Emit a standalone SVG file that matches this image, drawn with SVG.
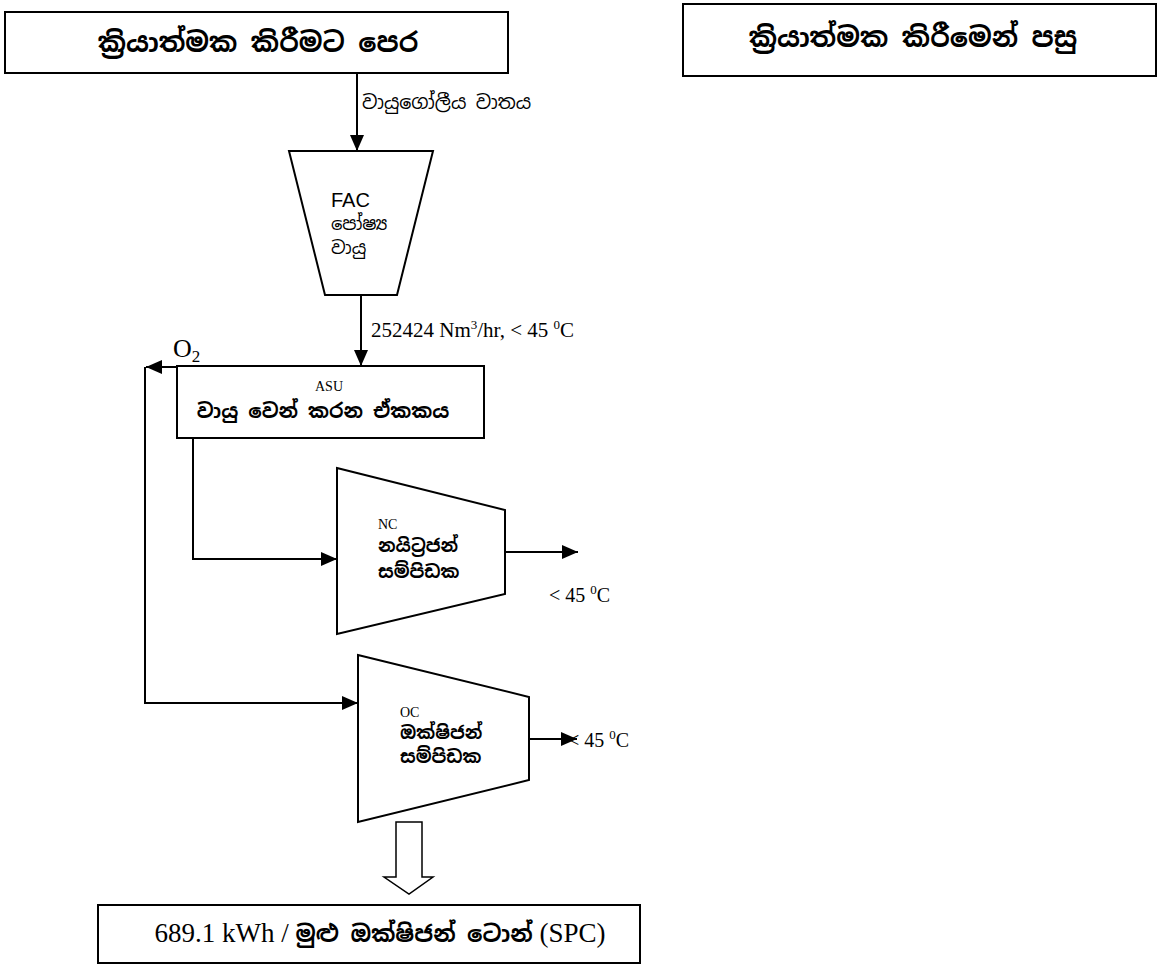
<svg xmlns="http://www.w3.org/2000/svg" width="1159" height="968" viewBox="0 0 1159 968">
  <defs>
    <marker id="ahb" viewBox="0 0 16 14" refX="16" refY="7" markerWidth="16" markerHeight="14" markerUnits="userSpaceOnUse" orient="auto">
      <path d="M0,0 L16,7 L0,14 z" fill="#000"/>
    </marker>
  </defs>
  <style>
    .box { fill: #fff; stroke: #000; stroke-width: 2; }
    .shape { fill: #fff; stroke: #000; stroke-width: 2; }
    .conn { fill: none; stroke: #000; stroke-width: 2; }
    .hdr { font-family: "Noto Sans Sinhala", "Noto Sans", "DejaVu Sans", sans-serif; font-weight: bold; font-size: 27px; fill: #000; }
    .sin { font-family: "Noto Sans Sinhala", "Noto Sans", "DejaVu Sans", sans-serif; font-size: 19px; fill: #000; }
    .sinb { font-family: "Noto Sans Sinhala", "Noto Sans", "DejaVu Sans", sans-serif; font-weight: bold; font-size: 18px; fill: #000; }
    .arial { font-family: "Liberation Sans", Arial, sans-serif; font-size: 20px; fill: #000; }
    .tm { font-family: "Liberation Serif", "Times New Roman", serif; font-size: 20px; fill: #000; }
    .tms { font-family: "Liberation Serif", "Times New Roman", serif; font-size: 14px; fill: #000; }
    .sup { font-size: 13px; }
  </style>
  <rect width="1159" height="968" fill="#fff"/>

  <g id="header-before">
    <rect class="box" x="5" y="12" width="503" height="61"/>
    <text class="hdr" x="258" y="52" text-anchor="middle">ක්‍රියාත්මක කිරීමට පෙර</text>
  </g>
  <g id="header-after">
    <rect class="box" x="683" y="4" width="473" height="72"/>
    <text class="hdr" x="913" y="47" text-anchor="middle">ක්‍රියාත්මක කිරීමෙන් පසු</text>
  </g>

  <g id="connectors">
    <path class="conn" d="M357,73 V151" marker-end="url(#ahb)"/>
    <path class="conn" d="M361,295 V366" marker-end="url(#ahb)"/>
    <path class="conn" d="M177,367 H146" marker-end="url(#ahb)"/>
    <path class="conn" d="M145,367 V703 H358" marker-end="url(#ahb)"/>
    <path class="conn" d="M193,438 V559 H337" marker-end="url(#ahb)"/>
    <path class="conn" d="M505,552 H578" marker-end="url(#ahb)"/>
    <path class="conn" d="M529,739 H577" marker-end="url(#ahb)"/>
    <path fill="#fff" stroke="#000" stroke-width="1.5" d="M396,822 H422 V877 H433 L409,894 L384,877 H396 Z"/>
  </g>

  <g id="label-atmos">
    <text class="sin" x="362" y="109">වායුගෝලීය වාතය</text>
  </g>
  <g id="label-flow">
    <text class="tm" x="371" y="337" style="font-size:21px">252424 Nm<tspan class="sup" dy="-8">3</tspan><tspan dy="8">/hr, &lt; 45 </tspan><tspan class="sup" dy="-8">0</tspan><tspan dy="8">C</tspan></text>
  </g>
  <g id="label-o2">
    <text class="tm" x="173" y="357" style="font-size:26px">O<tspan style="font-size:17px" dy="5">2</tspan></text>
  </g>

  <g id="fac">
    <polygon class="shape" points="289,151 433,151 397,295 325,295"/>
    <text class="arial" x="331" y="207">FAC</text>
    <text class="sin" x="331" y="230" style="font-size:18px">පෝෂ්‍ය</text>
    <text class="sin" x="331" y="254" style="font-size:18px">වායු</text>
  </g>

  <g id="asu">
    <rect class="box" x="177" y="366" width="307" height="72"/>
    <text class="tms" x="329" y="391" text-anchor="middle">ASU</text>
    <text class="sinb" x="323" y="418" text-anchor="middle" style="font-size:20px">වායු වෙන් කරන ඒකකය</text>
  </g>

  <g id="nc">
    <polygon class="shape" points="337,468 505,510 505,594 337,634"/>
    <text class="tms" x="378" y="529">NC</text>
    <text class="sinb" x="378" y="552">නයිට්‍රජන්</text>
    <text class="sinb" x="378" y="578">සම්පිඩක</text>
  </g>
  <g id="nc-out-label">
    <text class="tm" x="549" y="602">&lt; 45 <tspan class="sup" dy="-8">0</tspan><tspan dy="8">C</tspan></text>
  </g>

  <g id="oc">
    <polygon class="shape" points="358,655 529,697 529,780 358,822"/>
    <text class="tms" x="400" y="717">OC</text>
    <text class="sinb" x="400" y="739">ඔක්ෂිජන්</text>
    <text class="sinb" x="400" y="763">සම්පිඩක</text>
  </g>
  <g id="oc-out-label">
    <text class="tm" x="568" y="747">&lt; 45 <tspan class="sup" dy="-8">0</tspan><tspan dy="8">C</tspan></text>
  </g>

  <g id="result">
    <rect class="box" x="98" y="905" width="542" height="58"/>
    <text class="tm" x="380" y="942" text-anchor="middle" style="font-size:27px">689.1 kWh / <tspan class="sinb" style="font-size:23px">මුළු ඔක්ෂිජන් ටොන්</tspan> (SPC)</text>
  </g>
</svg>
